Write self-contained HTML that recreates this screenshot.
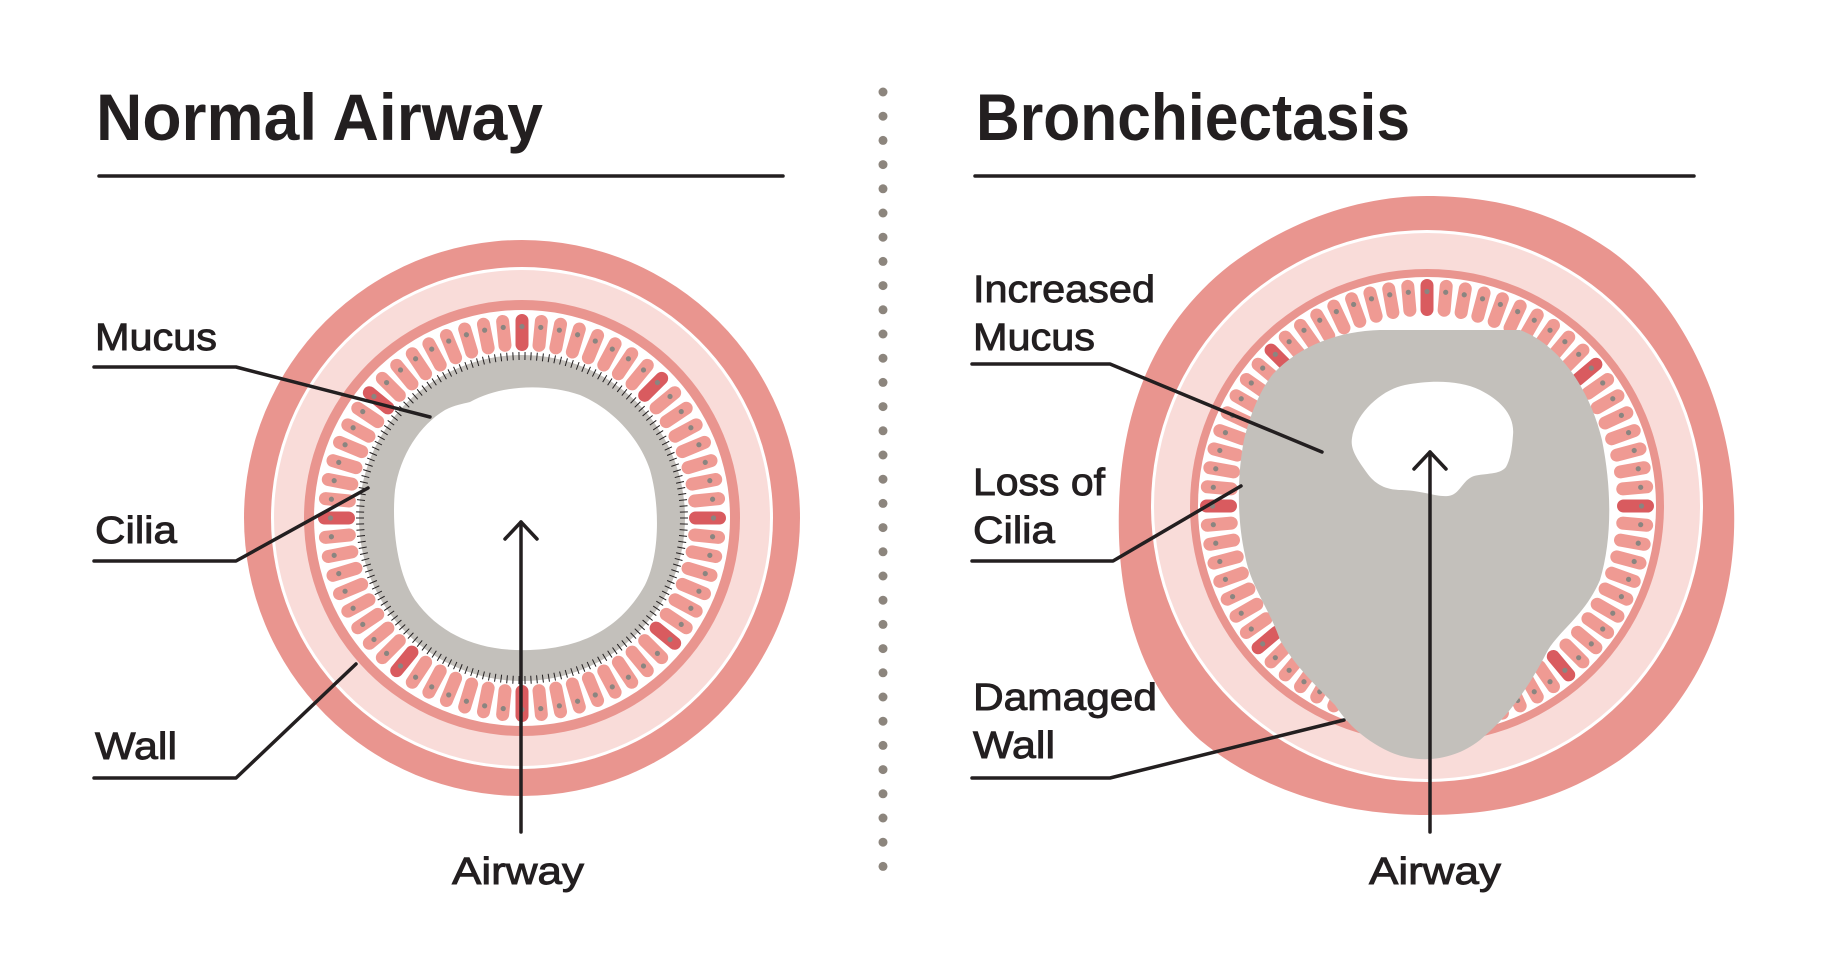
<!DOCTYPE html>
<html><head><meta charset="utf-8"><style>
html,body{margin:0;padding:0;background:#fff;}
svg{display:block;}
.t{font-family:"Liberation Sans",sans-serif;fill:#231f20;}
</style></head><body>
<svg id="s" width="1832" height="972" viewBox="0 0 1832 972" xmlns="http://www.w3.org/2000/svg">
<rect width="1832" height="972" fill="#fff"/>
<text class="t" x="96" y="140" font-size="66" font-weight="bold" textLength="447" lengthAdjust="spacingAndGlyphs">Normal Airway</text>
<line x1="99" y1="176" x2="783" y2="176" stroke="#231f20" stroke-width="3.5" stroke-linecap="round"/>
<text class="t" x="976" y="140" font-size="66" font-weight="bold" textLength="434" lengthAdjust="spacingAndGlyphs">Bronchiectasis</text>
<line x1="975" y1="176" x2="1694" y2="176" stroke="#231f20" stroke-width="3.5" stroke-linecap="round"/>
<g id="dots"></g>

<g id="L">
<circle cx="522" cy="518" r="278" fill="#e9958f"/>
<circle cx="522" cy="518" r="251" fill="#fff"/>
<circle cx="522" cy="518" r="248" fill="#f9dcd9"/>
<circle cx="522" cy="518" r="218" fill="#e9958f"/>
<circle cx="522" cy="518" r="208" fill="#fff"/>
<g id="Lcells"></g>
<circle cx="522" cy="518" r="163" fill="#c3c0bb"/>
<g id="Lticks"></g>
<path d="M470,402 C500,385 545,383 580,395 C615,410 640,440 650,470 C660,505 660,555 645,585 C620,630 580,648 530,650 C480,652 440,635 415,600 C395,570 392,520 395,490 C400,455 420,425 445,410 C455,405 462,404 470,402 Z" fill="#fff"/>
</g>

<g id="R">
<path d="M1427,196 C1500,196 1560,215 1610,250 C1680,300 1730,400 1734,506 C1738,620 1690,710 1620,760 C1560,800 1500,815 1427,815 C1340,815 1260,790 1200,740 C1140,685 1116,600 1119,506 C1122,400 1160,320 1230,265 C1290,220 1360,196 1427,196 Z" fill="#e9958f"/>
<circle cx="1427" cy="506" r="276" fill="#fff"/>
<circle cx="1427" cy="506" r="273" fill="#f9dcd9"/>
<circle cx="1427" cy="506" r="237" fill="#e9958f"/>
<circle cx="1427" cy="506" r="229" fill="#fff"/>
<g id="Rcells"></g>
<path d="M1273,374 C1300,345 1340,331 1380,330 L1520,330 C1560,345 1590,390 1602,440 C1612,490 1612,540 1600,580 C1585,615 1560,630 1548,650 C1530,685 1510,715 1480,740 C1455,760 1420,765 1390,752 C1360,738 1345,720 1335,705 C1310,680 1295,665 1280,640 C1270,610 1250,585 1245,555 C1236,515 1238,470 1244,440 C1250,415 1260,390 1273,374 Z" fill="#c3c0bb"/>
<path d="M1352,438 C1355,415 1380,390 1405,385 C1430,380 1460,380 1480,390 C1500,400 1515,415 1513,435 C1512,450 1510,460 1506,467 C1500,475 1485,473 1474,476 C1462,480 1460,495 1448,496 C1435,497 1425,491 1402,490 C1385,490 1375,484 1367,473 C1358,460 1350,450 1352,438 Z" fill="#fff"/>
</g>

<g fill="none" stroke="#231f20" stroke-width="3.5" stroke-linecap="round" stroke-linejoin="round">
<polyline points="94,367 236,367 430,417"/>
<polyline points="94,561 236,561 368,488"/>
<polyline points="94,778 236,778 356,664"/>
<line x1="521" y1="832" x2="521" y2="522"/>
<polyline points="505,539 521,522 537,539"/>
<polyline points="972,364 1110,364 1322,452"/>
<polyline points="972,561 1113,561 1241,486"/>
<polyline points="972,778 1110,778 1344,720"/>
<line x1="1430" y1="832" x2="1430" y2="452"/>
<polyline points="1414,469 1430,452 1446,469"/>
</g>

<g class="t" font-size="38" stroke="#231f20" stroke-width="0.9">
<text x="95" y="350" textLength="122" lengthAdjust="spacingAndGlyphs" class="t">Mucus</text>
<text x="95" y="543" textLength="82" lengthAdjust="spacingAndGlyphs" class="t">Cilia</text>
<text x="95" y="759" textLength="82" lengthAdjust="spacingAndGlyphs" class="t">Wall</text>
<text x="452" y="884" textLength="132" lengthAdjust="spacingAndGlyphs" class="t">Airway</text>
<text x="973" y="302" textLength="182" lengthAdjust="spacingAndGlyphs" class="t">Increased</text>
<text x="973" y="350" textLength="122" lengthAdjust="spacingAndGlyphs" class="t">Mucus</text>
<text x="973" y="495" textLength="132" lengthAdjust="spacingAndGlyphs" class="t">Loss of</text>
<text x="973" y="543" textLength="82" lengthAdjust="spacingAndGlyphs" class="t">Cilia</text>
<text x="973" y="710" textLength="184" lengthAdjust="spacingAndGlyphs" class="t">Damaged</text>
<text x="973" y="758" textLength="82" lengthAdjust="spacingAndGlyphs" class="t">Wall</text>
<text x="1369" y="884" textLength="132" lengthAdjust="spacingAndGlyphs" class="t">Airway</text>
</g>
</svg>
<script>
var NS="http://www.w3.org/2000/svg";
function el(p,n,a){var e=document.createElementNS(NS,n);for(var k in a)e.setAttribute(k,a[k]);p.appendChild(e);return e;}
var d=document.getElementById("dots");
for(var y=92;y<=888;y+=24.2)el(d,"circle",{cx:883,cy:y,r:4.5,fill:"#8c857d"});
function cells(g,cx,cy,n,r1,r2,dark){
  g=document.getElementById(g);
  for(var i=0;i<n;i++){
    var a=i*360/n;
    var isd=dark.some(function(x){return Math.abs(((a-x+540)%360)-180)<360/n/2;});
    var gr=el(g,"g",{transform:"translate("+cx+","+cy+") rotate("+(-a)+")"});
    el(gr,"rect",{x:r1,y:-6.5,width:r2-r1,height:13,rx:6.5,fill:isd?"#d95b5f":"#ef9a93"});
    el(gr,"circle",{cx:(r1+r2)/2+6,cy:0,r:2.6,fill:"#8a8580"});
  }
}
cells("Lcells",522,518,64,167,204,[0,45,90,140,180,231,270,322]);
cells("Rcells",1427,506,72,190,227,[0,40,90,135,180,219,309]);
var t=document.getElementById("Lticks");
for(var i=0;i<170;i++){var a=i*2*Math.PI/170,c=Math.cos(a),s=Math.sin(a);
 el(t,"line",{x1:522+158*c,y1:518+158*s,x2:522+166*c,y2:518+166*s,stroke:"#231f20","stroke-width":1});}
</script>
</body></html>
